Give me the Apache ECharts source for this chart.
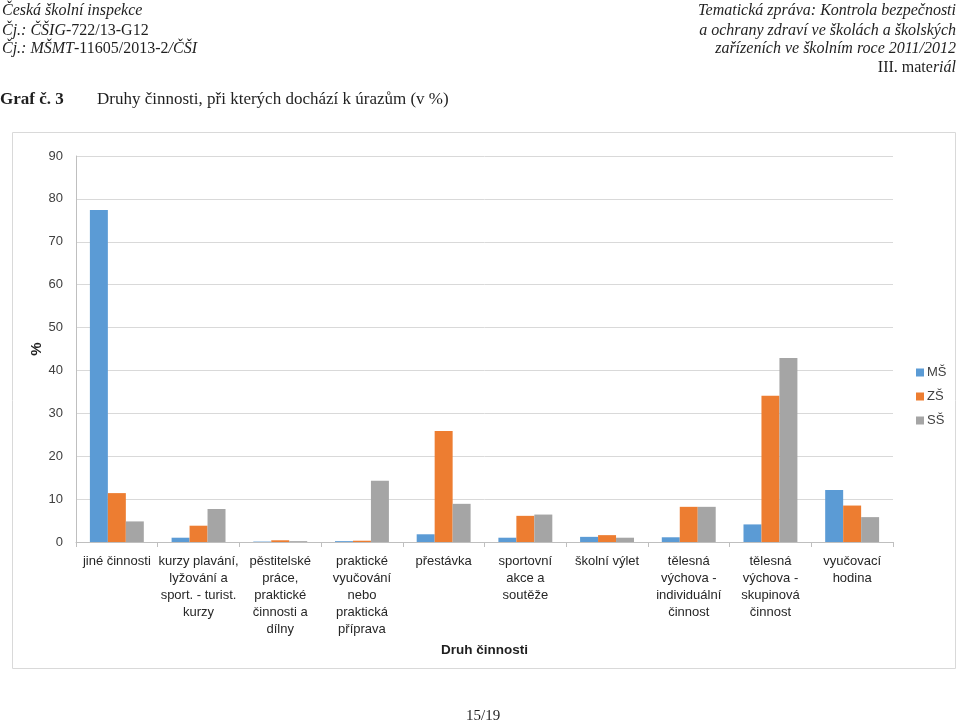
<!DOCTYPE html>
<html><head><meta charset="utf-8">
<script src="https://cdn.jsdelivr.net/npm/echarts@6/dist/echarts.min.js"></script>
<style>html,body{margin:0;padding:0;background:#fff}#c{width:960px;height:724px}</style>
</head><body><div id="c"></div>
<script>
const categories = [
  'jiné činnosti',
  'kurzy plavání,\nlyžování a\nsport. - turist.\nkurzy',
  'pěstitelské\npráce,\npraktické\nčinnosti a\ndílny',
  'praktické\nvyučování\nnebo\npraktická\npříprava',
  'přestávka',
  'sportovní\nakce a\nsoutěže',
  'školní výlet',
  'tělesná\nvýchova -\nindividuální\nčinnost',
  'tělesná\nvýchova -\nskupinová\nčinnost',
  'vyučovací\nhodina'
];
const seriesNames = ['MŠ', 'ZŠ', 'SŠ'];
const valuesMS = [77.4, 1.0, 0.1, 0.2, 1.8, 1.0, 1.2, 1.1, 4.1, 12.1];
const valuesZS = [11.4, 3.8, 0.4, 0.3, 25.9, 6.1, 1.6, 8.2, 34.1, 8.5];
const valuesSS = [4.8, 7.7, 0.2, 14.3, 8.9, 6.4, 1.0, 8.2, 42.9, 5.8];
const yTicks = {min: 0, max: 90, interval: 10};
const colors = ['#5B9BD5', '#ED7D31', '#A5A5A5'];

const sans = 'Liberation Sans';
const serif = 'Liberation Serif';
const chart = echarts.init(document.getElementById('c'));
chart.setOption({
  animation: false,
  color: colors,
  grid: {left: 76, right: 67, top: 156, bottom: 182, containLabel: false},
  legend: {
    orient: 'vertical', left: 911, top: 361,
    itemWidth: 8, itemHeight: 8, itemGap: 11,
    icon: 'rect',
    textStyle: {fontFamily: sans, fontSize: 13, color: '#404040', padding: [0, 0, 0, -2]},
    data: seriesNames
  },
  xAxis: {
    type: 'category', data: categories,
    name: 'Druh činnosti', nameLocation: 'middle', nameGap: 101,
    nameTextStyle: {fontFamily: sans, fontSize: 13.5, fontWeight: 'bold', color: '#1f1f1f'},
    axisLine: {lineStyle: {color: '#bfbfbf'}},
    axisTick: {show: true, length: 5, lineStyle: {color: '#bfbfbf'}},
    axisLabel: {interval: 0, fontFamily: sans, fontSize: 13, color: '#262626', lineHeight: 17, margin: 11}
  },
  yAxis: {
    type: 'value', min: yTicks.min, max: yTicks.max, interval: yTicks.interval,
    name: '%', nameLocation: 'middle', nameGap: 32, nameRotate: 90, nameMoveOverlap: false,
    nameTextStyle: {fontFamily: sans, fontSize: 15, fontWeight: 'bold', color: '#1f1f1f'},
    axisLine: {show: true, lineStyle: {color: '#bfbfbf'}},
    axisTick: {show: false},
    axisLabel: {fontFamily: sans, fontSize: 13, color: '#404040', margin: 13},
    splitLine: {lineStyle: {color: '#d9d9d9'}}
  },
  series: [
    {name: seriesNames[0], type: 'bar', data: valuesMS, barGap: '0%', barCategoryGap: '34%'},
    {name: seriesNames[1], type: 'bar', data: valuesZS, barGap: '0%', barCategoryGap: '34%'},
    {name: seriesNames[2], type: 'bar', data: valuesSS, barGap: '0%', barCategoryGap: '34%'}
  ],
  graphic: [
    {type: 'rect', shape: {x: 12.5, y: 132.5, width: 943, height: 536}, style: {fill: 'none', stroke: '#d9d9d9', lineWidth: 1}, z: -1},
    {type: 'text', left: 2, top: 3, style: {text: 'Česká školní inspekce', font: 'italic 16px ' + serif, fill: '#1f1f1f'}},
    {type: 'text', left: 2, top: 23, style: {text: '{i|Čj.: ČŠIG}{r|-722/13-G12}', rich: {i: {font: 'italic 16px ' + serif, fill: '#1f1f1f'}, r: {font: '16px ' + serif, fill: '#1f1f1f'}}}},
    {type: 'text', left: 2, top: 41, style: {text: '{i|Čj.: MŠMT}{r|-11605/2013-2}{i|/ČŠI}', rich: {i: {font: 'italic 16px ' + serif, fill: '#1f1f1f'}, r: {font: '16px ' + serif, fill: '#1f1f1f'}}}},
    {type: 'text', right: 4, top: 3, style: {text: 'Tematická zpráva: Kontrola bezpečnosti', font: 'italic 16px ' + serif, fill: '#1f1f1f', align: 'right'}},
    {type: 'text', right: 4, top: 23, style: {text: 'a ochrany zdraví ve školách a školských', font: 'italic 16px ' + serif, fill: '#1f1f1f', align: 'right'}},
    {type: 'text', right: 4, top: 41, style: {text: 'zařízeních ve školním roce 2011/2012', font: 'italic 16px ' + serif, fill: '#1f1f1f', align: 'right'}},
    {type: 'text', right: 4, top: 60, style: {text: '{r|III. mate}{i|riál}', align: 'right', rich: {i: {font: 'italic 16px ' + serif, fill: '#1f1f1f'}, r: {font: '16px ' + serif, fill: '#1f1f1f'}}}},
    {type: 'text', left: 0, top: 91, style: {text: 'Graf č. 3', font: 'bold 17px ' + serif, fill: '#1f1f1f'}},
    {type: 'text', left: 97, top: 91, style: {text: 'Druhy činnosti, při kterých dochází k úrazům (v %)', font: '17px ' + serif, fill: '#1f1f1f'}},
    {type: 'text', left: 466, top: 709, style: {text: '15/19', font: '15px ' + serif, fill: '#1f1f1f'}}
  ]
});
</script></body></html>
